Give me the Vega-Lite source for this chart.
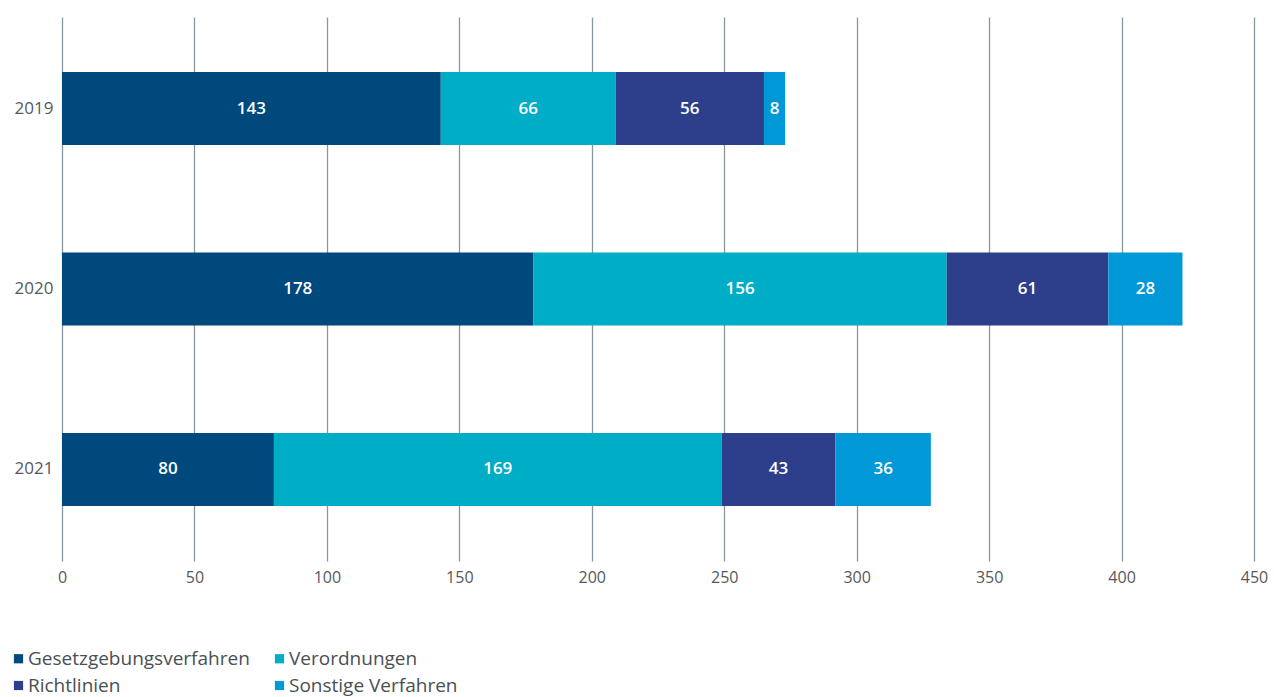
{
  "$schema": "https://vega.github.io/schema/vega-lite/v6.json",
  "autosize": {"type": "none"},
  "width": 1192,
  "height": 544,
  "padding": {"left": 62, "top": 17, "right": 20, "bottom": 136},
  "background": "white",
  "config": {
    "font": "Open Sans",
    "view": {"stroke": null}
  },
  "data": {
    "values": [
      {"Jahr": "2019", "Kategorie": "Gesetzgebungsverfahren", "o": 1, "Anzahl": 143},
      {"Jahr": "2019", "Kategorie": "Verordnungen", "o": 2, "Anzahl": 66},
      {"Jahr": "2019", "Kategorie": "Richtlinien", "o": 3, "Anzahl": 56},
      {"Jahr": "2019", "Kategorie": "Sonstige Verfahren", "o": 4, "Anzahl": 8},
      {"Jahr": "2020", "Kategorie": "Gesetzgebungsverfahren", "o": 1, "Anzahl": 178},
      {"Jahr": "2020", "Kategorie": "Verordnungen", "o": 2, "Anzahl": 156},
      {"Jahr": "2020", "Kategorie": "Richtlinien", "o": 3, "Anzahl": 61},
      {"Jahr": "2020", "Kategorie": "Sonstige Verfahren", "o": 4, "Anzahl": 28},
      {"Jahr": "2021", "Kategorie": "Gesetzgebungsverfahren", "o": 1, "Anzahl": 80},
      {"Jahr": "2021", "Kategorie": "Verordnungen", "o": 2, "Anzahl": 169},
      {"Jahr": "2021", "Kategorie": "Richtlinien", "o": 3, "Anzahl": 43},
      {"Jahr": "2021", "Kategorie": "Sonstige Verfahren", "o": 4, "Anzahl": 36}
    ]
  },
  "transform": [
    {"stack": "Anzahl", "groupby": ["Jahr"], "sort": [{"field": "o", "order": "ascending"}], "as": ["x0", "x1"]},
    {"calculate": "(datum.x0 + datum.x1) / 2", "as": "mid"}
  ],
  "encoding": {
    "y": {
      "field": "Jahr",
      "type": "nominal",
      "title": null,
      "scale": {"paddingInner": 0.595, "paddingOuter": 0.305},
      "axis": {"domain": false, "ticks": false, "labelPadding": 9, "labelFontSize": 17, "labelColor": "#55595c", "labelFont": "Open Sans"}
    }
  },
  "layer": [
    {
      "mark": {"type": "bar"},
      "encoding": {
        "x": {
          "field": "x0",
          "type": "quantitative",
          "title": null,
          "scale": {"domain": [0, 450], "nice": false},
          "axis": {
            "values": [0, 50, 100, 150, 200, 250, 300, 350, 400, 450],
            "domain": false,
            "ticks": false,
            "grid": true,
            "gridColor": "#8a979d",
            "gridWidth": 1.3,
            "labelPadding": 8,
            "labelFontSize": 16,
            "labelColor": "#55595c",
            "labelFont": "Open Sans",
            "labelFlush": false
          }
        },
        "x2": {"field": "x1"},
        "color": {
          "field": "Kategorie",
          "type": "nominal",
          "scale": {
            "domain": ["Gesetzgebungsverfahren", "Verordnungen", "Richtlinien", "Sonstige Verfahren"],
            "range": ["#00497d", "#00adc6", "#2d3e8b", "#0098d6"]
          },
          "legend": {
            "title": null,
            "orient": "none",
            "legendX": -53,
            "legendY": 632,
            "direction": "horizontal",
            "columns": 2,
            "columnPadding": 20,
            "rowPadding": 7,
            "symbolType": "square",
            "symbolSize": 85,
            "symbolStrokeWidth": 0,
            "symbolOpacity": 1,
            "labelFontSize": 19,
            "labelFontWeight": 500,
            "labelFont": "Open Sans",
            "labelColor": "#4a4f54",
            "labelOffset": 0,
            "labelLimit": 400
          }
        }
      }
    },
    {
      "mark": {"type": "text", "color": "white", "fontSize": 17, "fontWeight": 600, "baseline": "middle", "align": "center"},
      "encoding": {
        "x": {"field": "mid", "type": "quantitative"},
        "text": {"field": "Anzahl", "type": "quantitative"}
      }
    }
  ]
}
